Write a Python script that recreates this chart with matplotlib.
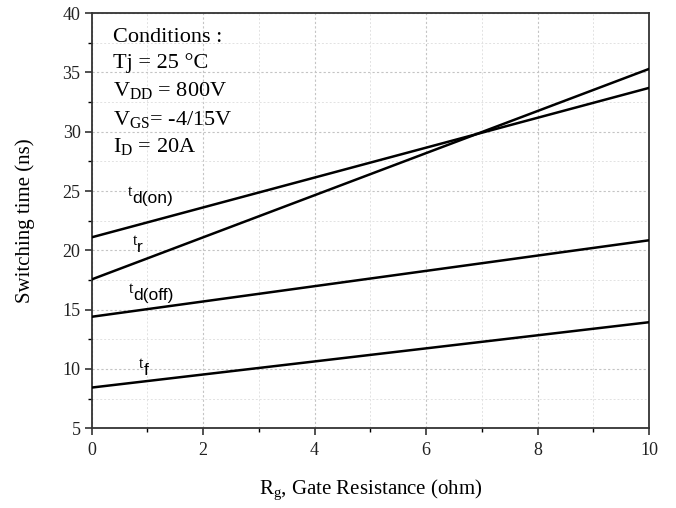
import matplotlib
matplotlib.use("Agg")
import matplotlib.pyplot as plt
from matplotlib.ticker import MultipleLocator

# gate resistance endpoints (ohm) and switching times (ns)
rg = [0, 10]
td_on = [21.1, 33.7]
t_r = [17.55, 35.3]
td_off = [14.4, 20.85]
t_f = [8.43, 13.94]

# label name, subscript, x, baseline y
labels = [
    ("t", "d(on)", 0.72, 24.0),
    ("t", "r", 0.82, 19.9),
    ("t", "d(off)", 0.74, 15.8),
    ("t", "f", 0.93, 9.5),
]

conditions = [
    "Conditions :",
    "Tj = 25 \u00b0C",
    r"V$_{\mathrm{DD}}$ = 800V",
    r"V$_{\mathrm{GS}}$= -4/15V",
    r"I$_{\mathrm{D}}$ = 20A",
]

plt.rcParams["font.family"] = "Liberation Serif"
plt.rcParams["mathtext.fontset"] = "custom"
plt.rcParams["mathtext.rm"] = "Liberation Serif"
plt.rcParams["mathtext.it"] = "Liberation Serif:italic"
plt.rcParams["mathtext.bf"] = "Liberation Serif:bold"

fig = plt.figure(figsize=(6.76, 5.08), dpi=100)
ax = fig.add_axes([0.1356, 0.157, 0.8244, 0.817])

for ys in [td_on, t_r, td_off, t_f]:
    ax.plot(rg, ys, color="black", lw=1.8, zorder=3)

ax.set_xlim(0, 10)
ax.set_ylim(5, 40)
ax.xaxis.set_major_locator(MultipleLocator(2))
ax.xaxis.set_minor_locator(MultipleLocator(1))
ax.yaxis.set_major_locator(MultipleLocator(5))
ax.yaxis.set_minor_locator(MultipleLocator(2.5))

ax.grid(which="major", color="#c4c4c4", ls=(0, (2, 2)), lw=0.8)
ax.grid(which="minor", color="#e2e2e2", ls=(0, (2, 2)), lw=0.7)

ax.tick_params(which="major", direction="out", length=5, width=1.1, labelsize=13, pad=3, colors="#222222")
ax.tick_params(which="minor", direction="out", length=3, width=1.0)
ax.tick_params(axis="x", which="major", pad=5)
for s in ax.spines.values():
    s.set_linewidth(1.3)
    s.set_color("#333333")

ax.set_ylabel("Switching time (ns)", fontsize=15, labelpad=20)
ax.set_xlabel(r"R$_{\mathrm{g}}$, Gate Resistance (ohm)", fontsize=15, labelpad=13)

for name, sub, x, y in labels:
    ax.text(x, y, sub, fontsize=12.5, family="Liberation Sans",
            va="baseline", ha="left", zorder=4)
    ax.annotate(name, (x, y), xytext=(0, 5), textcoords="offset points",
                fontsize=11.5, ha="right", va="baseline", zorder=4)

cond_y = [37.6, 35.4, 33.0, 30.6, 28.3]
for txt, y in zip(conditions, cond_y):
    ax.text(0.38, y, txt, fontsize=16, va="baseline", ha="left", zorder=4)

plt.savefig("out.png", dpi=100)
